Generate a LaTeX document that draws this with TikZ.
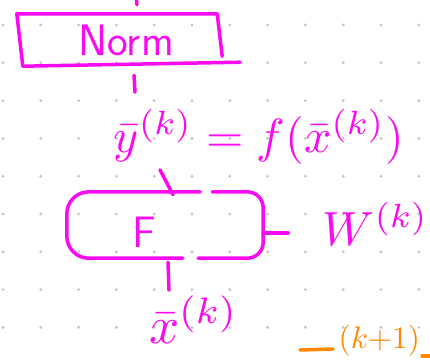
\documentclass[tikz,border=0pt]{standalone}
\usepackage{amsmath}
\definecolor{pen}{RGB}{250,10,240}
\definecolor{hl}{RGB}{255,135,0}

\begin{document}
\begin{tikzpicture}[x=1pt, y=-1pt,
  ink/.style={pen, line width=3.5pt, line cap=round, line join=round},
  dot/.style={gray!45},
  hand/.style={text=pen, inner sep=0pt, font=\fontsize{44}{50}\selectfont\sffamily},
  maths/.style={text=pen, inner sep=0pt, scale=4.8}]
  \useasboundingbox (0,0) rectangle (430,360);
  \foreach \i in {0,...,11}
    \foreach \j in {0,...,8}
      \fill[dot] (3+37.8*\i, 25+37.8*\j) circle (1.6pt);

  \node[hand, minimum width=214pt, minimum height=52pt] (norm) at (126,40) {Norm};
  \draw[ink] ([xshift=4pt]norm.south west) -- ([xshift=-2pt]norm.north west)
    -- ([xshift=-16pt]norm.north east) -- ([xshift=-11pt,yshift=10pt]norm.south east);
  \draw[ink] ([xshift=4pt]norm.south west) -- ([xshift=7pt,yshift=4pt]norm.south east);
  \node[maths, anchor=base west] (fy) at (113,152) {$\bar{y}^{(k)} = f(\bar{x}^{(k)})$};
  \node[minimum width=196pt, minimum height=66pt] (fbox) at (165,225) {};
  \node[hand] (F) at (144,232) {F};
  \node[maths, anchor=base west] (w) at (322,245) {$W^{(k)}$};
  \node[maths, scale=1.1, anchor=base west] (fx) at (148,343) {$\bar{x}^{(k)}$};
  \node[maths, text=hl, scale=0.65, anchor=base west] (kp) at (338,348) {$(k{+}1)$};

  \draw[ink] (norm.north) ++(11,-9) -- ++(-1,-9);
  \draw[ink] (norm.south) ++(8,9) -- ++(1,17);
  \draw[ink] (fbox.north) ++(8,3) -- ++(-13,-25);
  \draw[ink, rounded corners=22pt] ([xshift=-63pt]fbox.north east) -- (fbox.north west)
    -- (fbox.south west) -- ([xshift=116pt]fbox.south west);
  \draw[ink, rounded corners=16pt] ([xshift=-51pt]fbox.north east) -- (fbox.north east)
    -- (fbox.south east) -- ([xshift=-65pt]fbox.south east);
  \draw[ink] ([yshift=-8pt]fbox.east) -- ++(25,0);
  \draw[ink] (fbox.south) ++(3,4) -- ++(1,28);
  \draw[ink, hl] ([shift={(-38pt,-2pt)}]kp.base west) -- ++(33,-1);
  \draw[ink, hl] ([shift={(84pt,-8pt)}]kp.base west) -- ++(10,0);
\end{tikzpicture}
\end{document}
